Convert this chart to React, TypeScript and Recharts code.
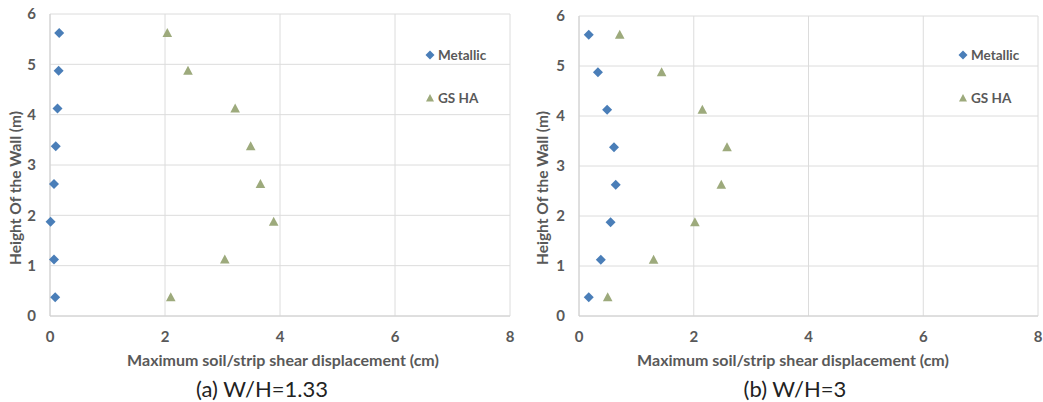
import React from "react";
import { ScatterChart, Scatter, XAxis, YAxis, CartesianGrid, Legend, Label } from "recharts";

const heights = [0.375, 1.125, 1.875, 2.625, 3.375, 4.125, 4.875, 5.625];
const metallicA = [0.09, 0.07, 0.01, 0.07, 0.1, 0.13, 0.15, 0.16];
const gshaA = [2.1, 3.04, 3.89, 3.66, 3.49, 3.22, 2.4, 2.04];
const metallicB = [0.17, 0.38, 0.55, 0.64, 0.61, 0.49, 0.33, 0.17];
const gshaB = [0.5, 1.3, 2.02, 2.48, 2.58, 2.15, 1.44, 0.71];
const xTicks = [0, 2, 4, 6, 8];
const yTicks = [0, 1, 2, 3, 4, 5, 6];
const seriesNames = ["Metallic", "GS HA"];
const xTitle = "Maximum soil/strip shear displacement (cm)";
const yTitle = "Height Of the Wall (m)";
const captions = ["(a) W/H=1.33", "(b) W/H=3"];

const BLUE = "#4a7eb8";
const OLIVE = "#9daa7c";
const FONT = "Lato, 'Open Sans', sans-serif";
const GRAY = "#595959";

const Diamond = (props: any) => {
  const { cx, cy } = props;
  const r = 5;
  return <polygon points={`${cx},${cy - r} ${cx + r},${cy} ${cx},${cy + r} ${cx - r},${cy}`} fill={BLUE} />;
};
const Triangle = (props: any) => {
  const { cx, cy } = props;
  return <polygon points={`${cx},${cy - 5} ${cx + 4.8},${cy + 4} ${cx - 4.8},${cy + 4}`} fill={OLIVE} />;
};

const toPoints = (xs: number[]) => xs.map((x, i) => ({ x, y: heights[i] }));

const LegendBox = () => (
  <div style={{ fontFamily: FONT, fontWeight: 700, fontSize: 13.5, color: GRAY }}>
    <div style={{ display: "flex", alignItems: "center", height: 20 }}>
      <svg width={12} height={12} style={{ marginRight: 2 }}>
        <polygon points="6,1.5 10.5,6 6,10.5 1.5,6" fill={BLUE} />
      </svg>
      <span>{seriesNames[0]}</span>
    </div>
    <div style={{ display: "flex", alignItems: "center", height: 20, marginTop: 23 }}>
      <svg width={12} height={12} style={{ marginRight: 2 }}>
        <polygon points="6,2 10,9.5 2,9.5" fill={OLIVE} />
      </svg>
      <span>{seriesNames[1]}</span>
    </div>
  </div>
);

function Panel(props: {
  left: number;
  width: number;
  top: number;
  right: number;
  metallic: number[];
  gsha: number[];
  yLabelX: number;
  xLabelX: number;
  legendLeft: number;
}) {
  const { left, width, top, right, metallic, gsha, yLabelX, xLabelX, legendLeft } = props;
  return (
    <div style={{ position: "absolute", left, top: 0 }}>
      <ScatterChart width={width} height={402} margin={{ top, right, bottom: 42, left: 0 }}>
        <CartesianGrid stroke="#dcdcdc" strokeWidth={1} />
        <XAxis
          type="number"
          dataKey="x"
          domain={[0, 8]}
          ticks={xTicks}
          height={44}
          axisLine={{ stroke: "#d0d0d0" }}
          tickLine={false}
          tickMargin={9}
          tick={{ fill: GRAY, fontSize: 15, fontWeight: 700, fontFamily: FONT }}
        >
          <Label
            content={() => (
              <text x={xLabelX} y={366} textAnchor="middle" fill={GRAY} fontFamily={FONT} fontWeight={700} fontSize={16}>
                {xTitle}
              </text>
            )}
          />
        </XAxis>
        <YAxis
          type="number"
          dataKey="y"
          domain={[0, 6]}
          ticks={yTicks}
          width={50}
          axisLine={{ stroke: "#d0d0d0" }}
          tickLine={false}
          tickMargin={8}
          tick={{ fill: GRAY, fontSize: 15, fontWeight: 700, fontFamily: FONT }}
        >
          <Label
            content={() => (
              <text
                x={yLabelX}
                y={188}
                textAnchor="middle"
                dominantBaseline="central"
                transform={`rotate(-90, ${yLabelX}, 188)`}
                fill={GRAY}
                fontFamily={FONT}
                fontWeight={700}
                fontSize={15.5}
              >
                {yTitle}
              </text>
            )}
          />
        </YAxis>
        <Legend
          layout="vertical"
          align="center"
          verticalAlign="middle"
          content={() => <LegendBox />}
          wrapperStyle={{ left: legendLeft, top: 45, width: 90 }}
        />
        <Scatter name={seriesNames[0]} data={toPoints(metallic)} shape={Diamond} isAnimationActive={false} />
        <Scatter name={seriesNames[1]} data={toPoints(gsha)} shape={Triangle} isAnimationActive={false} />
      </ScatterChart>
    </div>
  );
}

export default function App() {
  return (
    <div style={{ position: "absolute", left: 0, top: 0, width: 1043, height: 402, background: "#fff" }}>
      <Panel left={0} width={520} top={14} right={10} metallic={metallicA} gsha={gshaA} yLabelX={15} xLabelX={283} legendLeft={424} />
      <Panel left={529} width={514} top={16} right={5} metallic={metallicB} gsha={gshaB} yLabelX={13} xLabelX={264} legendLeft={428} />
      <div style={{ position: "absolute", left: 262, top: 388, transform: "translate(-50%, -50%)", fontFamily: FONT, fontSize: 22, color: "#222", whiteSpace: "nowrap" }}>
        {captions[0]}
      </div>
      <div style={{ position: "absolute", left: 795, top: 388, transform: "translate(-50%, -50%)", fontFamily: FONT, fontSize: 22, color: "#222", whiteSpace: "nowrap" }}>
        {captions[1]}
      </div>
    </div>
  );
}
